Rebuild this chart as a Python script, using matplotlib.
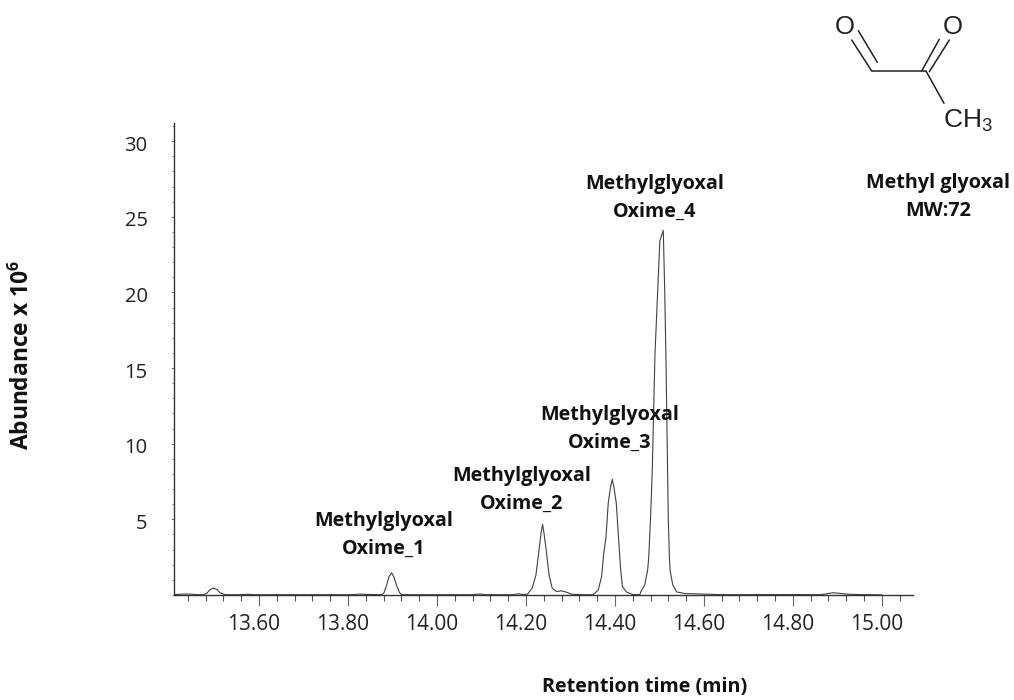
import matplotlib
matplotlib.use('Agg')
import matplotlib.pyplot as plt
from matplotlib.ticker import MultipleLocator
from matplotlib.transforms import ScaledTranslation

W, H = 1014, 700
plt.rcParams['font.family'] = ['Open Sans', 'DejaVu Sans']
plt.rcParams['mathtext.fontset'] = 'custom'
plt.rcParams['mathtext.bf'] = 'Open Sans:bold'

# retention time (min) and abundance (x 10^6)
times = [13.410, 13.430, 13.445, 13.465, 13.475, 13.483, 13.490, 13.497, 13.506, 13.512,
         13.524, 13.560, 13.575, 13.590, 13.700, 13.810, 13.825, 13.840, 13.876, 13.881,
         13.887, 13.892, 13.898, 13.903, 13.909, 13.916, 13.921, 14.000, 14.080, 14.095,
         14.110, 14.170, 14.183, 14.195, 14.204, 14.214, 14.2225, 14.230, 14.234, 14.2375,
         14.2405, 14.245, 14.252, 14.259, 14.269, 14.280, 14.2915, 14.303, 14.330, 14.351,
         14.3625, 14.370, 14.375, 14.380, 14.385, 14.390, 14.394, 14.398, 14.403, 14.408,
         14.413, 14.417, 14.426, 14.440, 14.456, 14.458, 14.467, 14.4735, 14.476, 14.480,
         14.484, 14.490, 14.496, 14.501, 14.5085, 14.509, 14.512, 14.5146, 14.520, 14.5225,
         14.524, 14.530, 14.539, 14.557, 14.600, 14.640, 14.800, 14.860, 14.876, 14.890,
         14.905, 14.925, 14.950, 15.000]
abundance = [0.03, 0.06, 0.06, 0.02, 0.02, 0.12, 0.36, 0.45, 0.36, 0.15,
             0.02, 0.02, 0.05, 0.02, 0.02, 0.02, 0.06, 0.04, 0.02, 0.15,
             0.66, 1.20, 1.47, 1.20, 0.66, 0.15, 0.02, 0.02, 0.02, 0.07,
             0.02, 0.02, 0.08, 0.02, 0.07, 0.46, 1.32, 3.10, 4.10, 4.67,
             4.10, 3.10, 1.32, 0.46, 0.22, 0.28, 0.18, 0.05, 0.02, 0.02,
             0.33, 1.20, 2.78, 3.83, 6.08, 7.10, 7.65, 7.10, 6.08, 3.83,
             1.65, 0.55, 0.20, 0.03, 0.02, 0.20, 0.66, 1.65, 2.45, 5.00,
             8.26, 15.90, 20.00, 23.40, 24.10, 23.80, 20.00, 15.90, 5.00, 2.45,
             1.65, 0.66, 0.20, 0.10, 0.06, 0.02, 0.03, 0.02, 0.08, 0.15,
             0.11, 0.05, 0.03, 0.01]

y_ticks = [5, 10, 15, 20, 25, 30]
x_ticks = [13.6, 13.8, 14.0, 14.2, 14.4, 14.6, 14.8, 15.0]
x_labels = ['13.60', '13.80', '14.00', '14.20', '14.40', '14.60', '14.80', '15.00']

# peak labels, (pixel x, pixel y of line centres)
peak_labels = [
    ('Methylglyoxal\nOxime_1', 384, 535),
    ('Methylglyoxal\nOxime_2', 522, 490),
    ('Methylglyoxal\nOxime_3', 610, 429),
    ('Methylglyoxal\nOxime_4', 655, 198),
    ('Methyl glyoxal\nMW:72', 938, 197),
]

fig = plt.figure(figsize=(W / 100, H / 100), dpi=100)
ax = fig.add_axes([174 / W, 1 - 595 / H, (913 - 174) / W, (595 - 123) / H])
ax.plot(times, abundance, color='#404040', lw=0.8)
ax.set_xlim(13.409, 15.07)
ax.set_ylim(0, 31.2)

for side in ['top', 'right']:
    ax.spines[side].set_visible(False)
for side in ['left', 'bottom']:
    ax.spines[side].set_color('#333333')
    ax.spines[side].set_linewidth(1.0)

ax.set_xticks(x_ticks)
ax.set_xticklabels(x_labels)
ax.set_yticks(y_ticks)
ax.xaxis.set_minor_locator(MultipleLocator(0.04))
ax.yaxis.set_minor_locator(MultipleLocator(1))
ax.tick_params(axis='x', which='major', length=8, width=0.8, color='#666666', pad=5.5, labelsize=15, labelcolor='#222222')
ax.tick_params(axis='x', which='minor', length=4.5, width=0.8, color='#555555')
ax.tick_params(axis='y', which='major', length=2.5, width=0.7, color='#777777', pad=16.5, labelsize=14.5, labelcolor='#222222')
ax.tick_params(axis='y', which='minor', length=1.5, width=0.7, color='#888888')

# tick labels sit a little off their ticks in the original
for label in ax.get_xticklabels():
    label.set_transform(label.get_transform() + ScaledTranslation(-5 / 100, 0, fig.dpi_scale_trans))
for label in ax.get_yticklabels():
    label.set_transform(label.get_transform() + ScaledTranslation(0, -2 / 100, fig.dpi_scale_trans))

for text, px, py in peak_labels:
    fig.text(px / W, 1 - py / H, text, ha='center', va='center', fontsize=14.2,
             fontweight='bold', color='#111111', linespacing=1.55)

fig.text(645 / W, 1 - 687 / H, 'Retention time (min)', ha='center', va='center',
         fontsize=14.2, fontweight='bold', color='#111111')
fig.text(22 / W, 1 - 355 / H, r'Abundance x 10$^{\mathbf{6}}$', ha='center', va='center',
         rotation=90, fontsize=16.4, fontweight='bold', color='#111111')

# structure of the molecule, in figure pixels
mol = fig.add_axes([0, 0, 1, 1], facecolor='none')
mol.set_xlim(0, W)
mol.set_ylim(H, 0)
mol.axis('off')
bonds = [
    ((851.7, 40), (871.7, 71)),
    ((858.3, 30.7), (877.3, 62.3)),
    ((871.7, 71), (926, 71)),
    ((921.7, 71), (939.3, 39.3)),
    ((929.3, 71.7), (949.3, 40)),
    ((926, 71), (944, 103.3)),
]
for (x0, y0), (x1, y1) in bonds:
    mol.plot([x0, x1], [y0, y1], color='#222222', lw=1.1, solid_capstyle='round')
for px, py in [(845, 26.5), (952.5, 26.5)]:
    mol.text(px, py, 'O', ha='center', va='center', fontsize=18.5,
             family='Liberation Sans', color='#222222')
mol.text(943, 121, r'CH$_{\mathregular{3}}$', ha='left', va='center', fontsize=19,
         family='Liberation Sans', color='#222222')

fig.savefig('out.png', dpi=100)
